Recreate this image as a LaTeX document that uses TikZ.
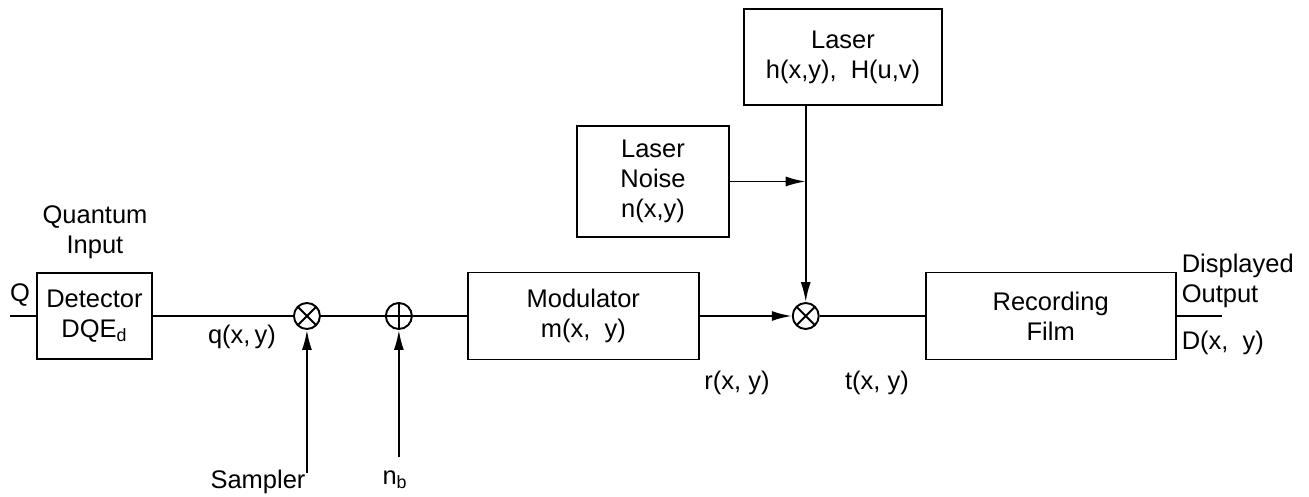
\documentclass[tikz,border=0pt]{standalone}
\usepackage{fontspec}
\setmainfont{Liberation Sans}
\usetikzlibrary{arrows.meta,positioning}

\begin{document}
\begin{tikzpicture}[font=\fontsize{14.5}{17}\selectfont,line width=1.1pt,box/.style={draw,minimum height=1.74cm,align=center},arrow/.style={-{Latex[length=4mm,width=2mm]}},mult/.style={draw,circle,minimum size=0.52cm,inner sep=0pt,path picture={\draw (path picture bounding box.north west)--(path picture bounding box.south east) (path picture bounding box.north east)--(path picture bounding box.south west);}},addr/.style={draw,circle,minimum size=0.52cm,inner sep=0pt,path picture={\draw (path picture bounding box.north)--(path picture bounding box.south) (path picture bounding box.west)--(path picture bounding box.east);}}]
 \useasboundingbox (0,0) rectangle (26.18,9.94);
 \node[box,minimum width=2.3cm,minimum height=1.72cm,inner sep=1pt] (det) at (1.89,3.62) {Detector\\DQE\textsubscript{d}};
 \node[mult,right=2.8cm of det] (samp) {};
 \node[addr,right=1.28cm of samp] (add) {};
 \node[box,minimum width=4.62cm,right=1.08cm of add] (mod) {Modulator\\m(x,\ \ y)};
 \node[mult,right=1.84cm of mod] (mix) {};
 \node[box,minimum width=5cm,right=2.1cm of mix] (film) {Recording\\Film};
 \node[box,minimum width=3.96cm,minimum height=1.92cm] (laser) at (16.86,8.8) {Laser\\h(x,y),\ \ H(u,v)};
 \node[box,minimum width=3.04cm,minimum height=2.22cm] (noise) at (13.06,6.31) {Laser\\Noise\\n(x,y)};
 \node (qlab) at (0.4,4.04) {Q};
 \node[align=center] (quant) at (1.9,5.3) {Quantum\\Input};
 \node (qxy) at (4.84,3.2) {q(x,\,y)};
 \node (rxy) at (14.74,2.28) {r(x,\ y)};
 \node (txy) at (17.54,2.28) {t(x,\ y)};
 \node[align=left,anchor=west] (disp) at (23.5,4.32) {Displayed\\Output};
 \node[anchor=west] (dxy) at (23.5,3.08) {D(x,\ \ y)};
 \node (sampler) at (5.16,0.3) {Sampler};
 \node (nb) at (7.9,0.34) {n\textsubscript{b}};
 \coordinate (qin) at (0.2,3.62);
 \coordinate (dout) at (24.44,3.62);
 \coordinate (stip) at (samp |- 0,0.48);
 \coordinate (ntip) at (add |- 0,0.8);
 \draw (qin)--(det); \draw (det)--(samp); \draw (samp)--(add); \draw (add)--(mod); \draw[arrow] (mod)--(mix); \draw (mix)--(film); \draw (film)--(dout);
 \draw[arrow] (stip)--(samp); \draw[arrow] (ntip)--(add);
 \draw[arrow] (laser.south -| mix)--(mix);
 \draw[arrow] (noise.east)--(noise.east -| mix);
\end{tikzpicture}
\end{document}
